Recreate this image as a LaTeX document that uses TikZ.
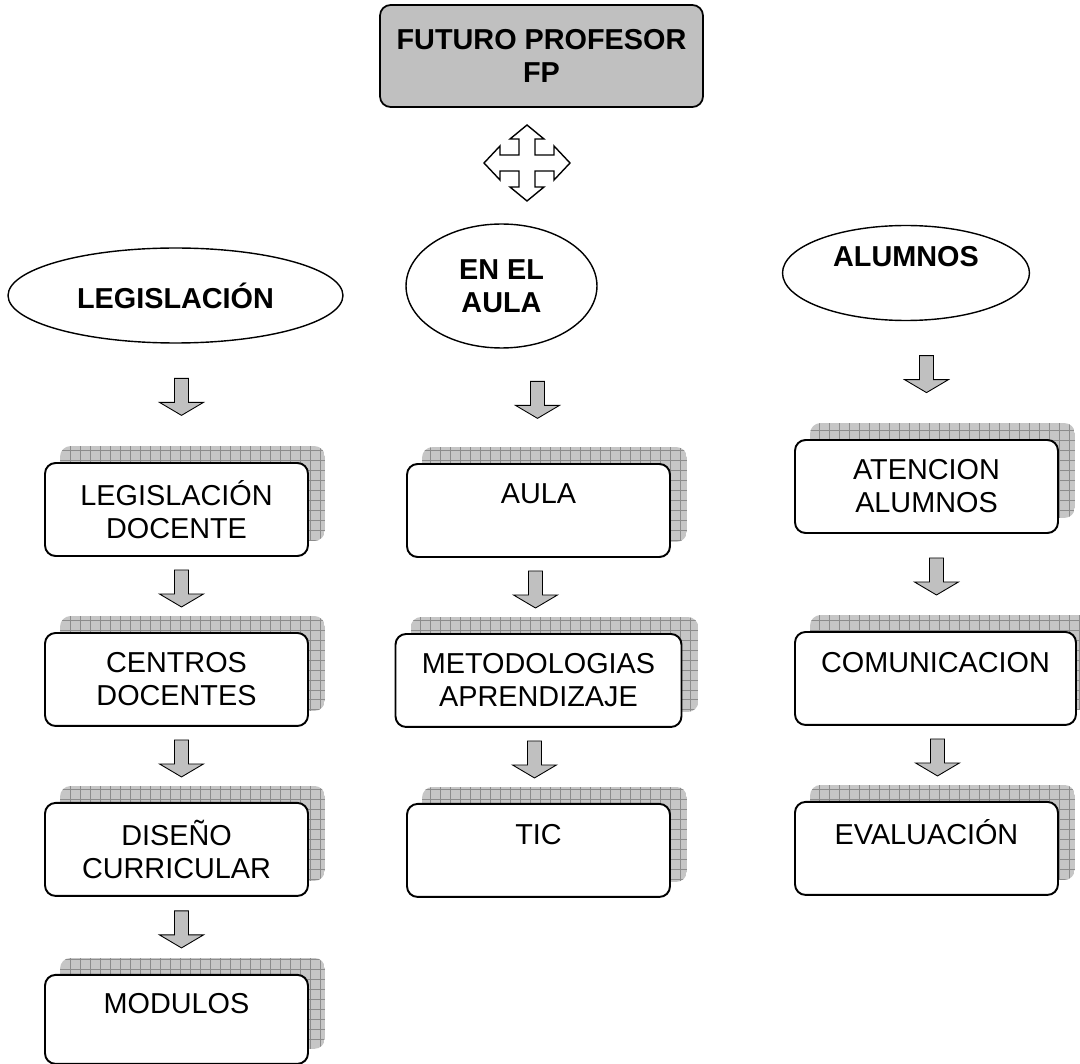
\documentclass[tikz,border=0pt]{standalone}
\usepackage{fontspec}
\setmainfont{Liberation Sans}
\usetikzlibrary{shapes,positioning,calc}
\pgfdeclarelayer{background}
\pgfsetlayers{background,main}
\definecolor{boxgray}{RGB}{192,192,192}
\definecolor{shadegray}{RGB}{198,198,198}
\definecolor{shadeline}{RGB}{140,140,140}

\begin{document}
\begin{tikzpicture}[x=0.02cm, y=-0.02cm,
    every node/.style={on grid, font=\fontsize{16.4}{18.7}\selectfont, align=center},
    head/.style={draw=black, line width=1pt, rounded corners=6pt, fill=boxgray,
        font=\fontsize{16.4}{18.7}\selectfont\bfseries, minimum width=6.46cm, minimum height=2.04cm},
    topic/.style={draw=black, ellipse, line width=0.8pt, inner sep=0pt,
        font=\fontsize{16.4}{18.7}\selectfont\bfseries},
    item/.style={draw=black, line width=1.1pt, rounded corners=6pt, fill=white,
        inner sep=0pt, minimum width=5.26cm, minimum height=1.86cm},
    node distance=3.4cm,
    downarr/.pic={\filldraw[fill=boxgray, draw=black, line width=0.5pt]
        (-7,-18.5) -- (7,-18.5) -- (7,5.5) -- (22,5.5) -- (0,18.5) -- (-22,5.5) -- (-7,5.5) -- cycle;},
    crossarr/.pic={\filldraw[fill=white, draw=black, line width=0.8pt]
        (0,-38) -- (17,-24) -- (8,-24) -- (8,-8) -- (27,-8) -- (27,-17) -- (43,0)
        -- (27,17) -- (27,8) -- (8,8) -- (8,24) -- (17,24) -- (0,38)
        -- (-17,24) -- (-8,24) -- (-8,8) -- (-27,8) -- (-27,17) -- (-43,0)
        -- (-27,-17) -- (-27,-8) -- (-8,-8) -- (-8,-24) -- (-17,-24) -- cycle;}]
    \useasboundingbox (0,0) rectangle (1080,1064);

    \node[head] (fp) at (541.5,56) {FUTURO PROFESOR\\FP};
    \pic at (527,163) {crossarr};

    % the three themes
    \node[topic, minimum width=6.7cm, minimum height=1.9cm] (leg) at (175.5,295.5) {LEGISLACIÓN};
    \node[topic, minimum width=3.82cm, minimum height=2.48cm] (aula) at (501.5,286) {EN EL\\AULA};
    \node[topic, minimum width=4.94cm, minimum height=1.9cm] (alu) at (906,273) {ALUMNOS\\\mbox{}};

    % left column
    \node[item] (ld) at (176.5,509.5) {LEGISLACIÓN\\DOCENTE};
    \node[item, below=of ld] (cd) {CENTROS\\DOCENTES};
    \node[item, below=of cd] (dc) {DISEÑO\\CURRICULAR};
    \node[item, below=of dc, minimum height=1.78cm] (mo) {MODULOS\\\mbox{}};

    % middle column
    \node[item] (au) at (538.5,510.5) {AULA\\\mbox{}};
    \node[item, below=of au, minimum width=5.72cm] (me) {METODOLOGIAS\\APRENDIZAJE};
    \node[item, below=of me] (ti) {TIC\\\mbox{}};

    % right column
    \node[item] (at) at (926.5,486.5) {ATENCION\\ALUMNOS};
    \node[item, below=3.84cm of at, xshift=0.18cm, minimum width=5.62cm] (co) {COMUNICACION\\\mbox{}};
    \node[item, below=of co, xshift=-0.18cm] (ev) {EVALUACIÓN\\\mbox{}};

    \foreach \a/\b/\dx in {leg/ld/5, ld/cd/5, cd/dc/5, dc/mo/5, aula/au/-1, au/me/-3, me/ti/-4,
                          alu/at/0, at/co/1, co/ev/11}
        \pic at ($(\b.north)!0.5!(\b.north|-\a.south)+(\dx,-6)$) {downarr};

    \begin{pgfonlayer}{background}
        \foreach \n in {ld,cd,dc,mo,au,me,ti,at,co,ev}{
            \begin{scope}
                \clip[rounded corners=6pt] ($(\n.south west)+(16,-16)$) rectangle ($(\n.north east)+(16,-16)$);
                \fill[shadegray] ($(\n.south west)+(16,-16)$) rectangle ($(\n.north east)+(16,-16)$);
                \draw[shadeline, line width=0.4pt, step=0.2cm] ($(\n.south west)+(16,-16)$) grid ($(\n.north east)+(16,-16)$);
            \end{scope}
        }
    \end{pgfonlayer}
\end{tikzpicture}
\end{document}
